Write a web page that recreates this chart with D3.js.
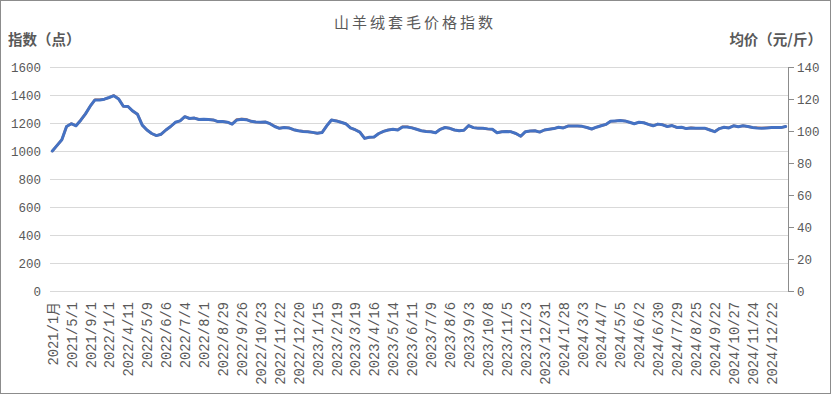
<!DOCTYPE html>
<html><head><meta charset="utf-8">
<script src="https://cdn.jsdelivr.net/npm/d3@7/dist/d3.min.js"></script>
<style>
html,body{margin:0;padding:0;background:#fff;}
svg{display:block;}
</style></head>
<body>
<svg id="chart" width="831" height="394"></svg>
<script>
const categories = [
"2021/1月","2021/2/1","2021/3/1","2021/4/1",
"2021/5/1","2021/6/1","2021/7/1","2021/8/1",
"2021/9/1","2021/10/1","2021/11/1","2021/12/1",
"2022/1/1","2022/2/1","2022/3/1","2022/3/28",
"2022/4/11","2022/4/18","2022/4/25","2022/5/2",
"2022/5/9","2022/5/16","2022/5/23","2022/5/30",
"2022/6/6","2022/6/13","2022/6/20","2022/6/27",
"2022/7/4","2022/7/11","2022/7/18","2022/7/25",
"2022/8/1","2022/8/8","2022/8/15","2022/8/22",
"2022/8/29","2022/9/5","2022/9/12","2022/9/19",
"2022/9/26","2022/10/3","2022/10/9","2022/10/16",
"2022/10/23","2022/10/30","2022/11/6","2022/11/13",
"2022/11/22","2022/11/29","2022/12/6","2022/12/13",
"2022/12/20","2022/12/27","2023/1/3","2023/1/8",
"2023/1/15","2023/1/29","2023/2/5","2023/2/12",
"2023/2/19","2023/2/26","2023/3/5","2023/3/12",
"2023/3/19","2023/3/26","2023/4/2","2023/4/9",
"2023/4/16","2023/4/23","2023/4/30","2023/5/7",
"2023/5/14","2023/5/21","2023/5/28","2023/6/4",
"2023/6/11","2023/6/18","2023/6/25","2023/7/2",
"2023/7/9","2023/7/16","2023/7/23","2023/7/30",
"2023/8/6","2023/8/13","2023/8/20","2023/8/27",
"2023/9/3","2023/9/10","2023/9/17","2023/9/24",
"2023/10/8","2023/10/15","2023/10/22","2023/10/29",
"2023/11/5","2023/11/12","2023/11/19","2023/11/26",
"2023/12/3","2023/12/10","2023/12/17","2023/12/24",
"2023/12/31","2024/1/7","2024/1/14","2024/1/21",
"2024/1/28","2024/2/4","2024/2/18","2024/2/25",
"2024/3/3","2024/3/10","2024/3/17","2024/3/24",
"2024/4/7","2024/4/14","2024/4/21","2024/4/28",
"2024/5/5","2024/5/12","2024/5/19","2024/5/26",
"2024/6/2","2024/6/9","2024/6/16","2024/6/23",
"2024/6/30","2024/7/7","2024/7/14","2024/7/21",
"2024/7/29","2024/8/4","2024/8/11","2024/8/18",
"2024/8/25","2024/9/1","2024/9/8","2024/9/15",
"2024/9/22","2024/9/29","2024/10/13","2024/10/20",
"2024/10/27","2024/11/3","2024/11/10","2024/11/17",
"2024/11/24","2024/12/1","2024/12/8","2024/12/15",
"2024/12/22","2024/12/29","2025/1/5","2025/1/12"
];

// 指数（点）
const indexValues = [
1000,1040,1080,1175,1195,1180,1220,1265,1320,1365,1365,1370,1382,1395,1372,1320,
1318,1285,1262,1185,1150,1125,1110,1120,1150,1175,1205,1215,1245,1232,1235,1225,
1226,1225,1222,1210,1210,1206,1192,1222,1226,1224,1212,1207,1205,1207,1195,1175,
1162,1168,1165,1152,1145,1140,1137,1133,1127,1132,1180,1221,1215,1205,1195,1165,
1152,1135,1090,1098,1100,1125,1140,1150,1155,1150,1172,1172,1165,1155,1145,1140,
1138,1130,1155,1168,1162,1150,1145,1148,1182,1167,1163,1162,1158,1155,1130,1137,
1140,1137,1125,1105,1138,1143,1145,1135,1150,1155,1160,1170,1165,1178,1178,1178,
1176,1168,1157,1170,1180,1190,1212,1215,1218,1215,1205,1195,1205,1202,1190,1180,
1192,1187,1175,1182,1168,1170,1160,1165,1162,1162,1162,1150,1138,1160,1170,1165,
1180,1173,1180,1175,1168,1165,1163,1165,1167,1167,1167,1175
];

// 均价（元/斤）
const priceValues = [
87.5,91.0,94.5,102.8,104.6,103.3,106.8,110.7,115.5,119.5,119.6,119.9,120.9,122.2,120.1,115.5,
115.3,112.4,110.4,103.7,100.6,98.4,97.1,98.0,100.6,102.8,105.4,106.3,109.0,107.8,108.1,107.2,
107.3,107.2,106.9,105.9,105.9,105.5,104.4,107.2,107.5,107.3,106.1,105.6,105.4,105.6,104.6,102.9,
101.7,102.2,102.0,100.8,100.2,99.8,99.5,99.1,98.6,99.1,103.3,106.9,106.4,105.5,104.6,102.0,
100.8,99.3,95.4,96.1,96.3,98.4,99.8,100.6,101.1,100.7,102.6,102.6,102.0,101.1,100.2,99.8,
99.6,98.9,101.1,102.2,101.7,100.6,100.2,100.5,103.4,102.1,101.8,101.7,101.3,101.1,98.9,99.5,
99.8,99.5,98.4,96.7,99.6,100.0,100.2,99.3,100.6,101.1,101.5,102.4,102.0,103.1,103.1,103.1,
102.9,102.2,101.2,102.4,103.3,104.1,106.1,106.3,106.6,106.3,105.4,104.6,105.4,105.2,104.1,103.3,
104.3,103.9,102.8,103.4,102.2,102.4,101.5,102.0,101.7,101.7,101.7,100.6,99.6,101.5,102.4,102.0,
103.3,102.6,103.3,102.8,102.2,102.0,101.8,102.0,102.1,102.1,102.1,102.8
];

const leftTicks = [0,200,400,600,800,1000,1200,1400,1600];
const rightTicks = [0,20,40,60,80,100,120,140];
const labelEvery = 4;

const title = "山羊绒套毛价格指数";
const leftTitle = "指数（点）";
const rightTitle = "均价（元/斤）";

const svg = d3.select("#chart");
const W = 831, H = 394;
const plot = {left: 50, right: 788, top: 67, bottom: 291};
const textColor = "#595959";
const monoFont = "'Liberation Mono','DejaVu Sans Mono','Noto Sans CJK SC',monospace";
const cjkFont = "'Noto Sans CJK SC','Noto Sans',sans-serif";

// border
svg.append("rect").attr("x",0.5).attr("y",0.5).attr("width",W-1).attr("height",H-1)
  .attr("fill","#fff").attr("stroke","#8c8c8c").attr("stroke-width",1);

const x = d3.scalePoint().domain(categories).range([plot.left, plot.right]).padding(0.5);
const yL = d3.scaleLinear().domain([0,1600]).range([plot.bottom, plot.top]);
const yR = d3.scaleLinear().domain([0,140]).range([plot.bottom, plot.top]);

// gridlines
svg.append("g").selectAll("line").data(leftTicks).join("line")
  .attr("x1",plot.left).attr("x2",plot.right)
  .attr("y1",d=>Math.round(yL(d))+0.5).attr("y2",d=>Math.round(yL(d))+0.5)
  .attr("stroke","#d9d9d9").attr("stroke-width",1);

// left axis labels
const gL = svg.append("g").attr("transform",`translate(${plot.left},0)`)
  .call(d3.axisLeft(yL).tickValues(leftTicks).tickSize(0).tickPadding(9).tickFormat(d3.format("d")));
gL.select(".domain").remove();
gL.selectAll("text").attr("fill",textColor).style("font-family",monoFont).style("font-size","12.5px");

// right axis
const gR = svg.append("g").attr("transform",`translate(${plot.right},0)`)
  .call(d3.axisRight(yR).tickValues(rightTicks).tickSize(6).tickPadding(3).tickFormat(d3.format("d")));
gR.select(".domain").attr("stroke","#8c8c8c");
gR.selectAll(".tick line").attr("stroke","#8c8c8c");
gR.selectAll("text").attr("fill",textColor).style("font-family",monoFont).style("font-size","12.5px");

// x axis labels
const gX = svg.append("g").attr("transform",`translate(0,${plot.bottom})`)
  .call(d3.axisBottom(x).tickValues(categories.filter((d,i)=>i%labelEvery===0)).tickSize(0));
gX.select(".domain").remove();
gX.selectAll("text")
  .attr("transform","rotate(-90)")
  .attr("x",-11).attr("y",0).attr("dy","0.35em")
  .attr("text-anchor","end")
  .attr("fill",textColor)
  .style("font-family",monoFont).style("font-size","13.8px");

// lines
const lineR = d3.line().x((d,i)=>x(categories[i])).y(d=>yR(d));
const lineL = d3.line().x((d,i)=>x(categories[i])).y(d=>yL(d));
svg.append("path").datum(priceValues).attr("d",lineR)
  .attr("fill","none").attr("stroke","#ED7D31").attr("stroke-width",2.5)
  .attr("stroke-linejoin","round").attr("stroke-linecap","round");
svg.append("path").datum(indexValues).attr("d",lineL)
  .attr("fill","none").attr("stroke","#4472C4").attr("stroke-width",3)
  .attr("stroke-linejoin","round").attr("stroke-linecap","round");

// titles
svg.append("text").attr("x",415).attr("y",28).attr("text-anchor","middle")
  .attr("fill",textColor).style("font-family",cjkFont).style("font-size","15px")
  .style("letter-spacing","3px").text(title);
svg.append("text").attr("x",8).attr("y",45).attr("text-anchor","start")
  .attr("fill",textColor).style("font-family",cjkFont).style("font-size","14.5px")
  .style("font-weight","bold").text(leftTitle);
svg.append("text").attr("x",822).attr("y",45).attr("text-anchor","end")
  .attr("fill",textColor).style("font-family",cjkFont).style("font-size","14.5px")
  .style("font-weight","bold").text(rightTitle);
</script>
</body></html>
